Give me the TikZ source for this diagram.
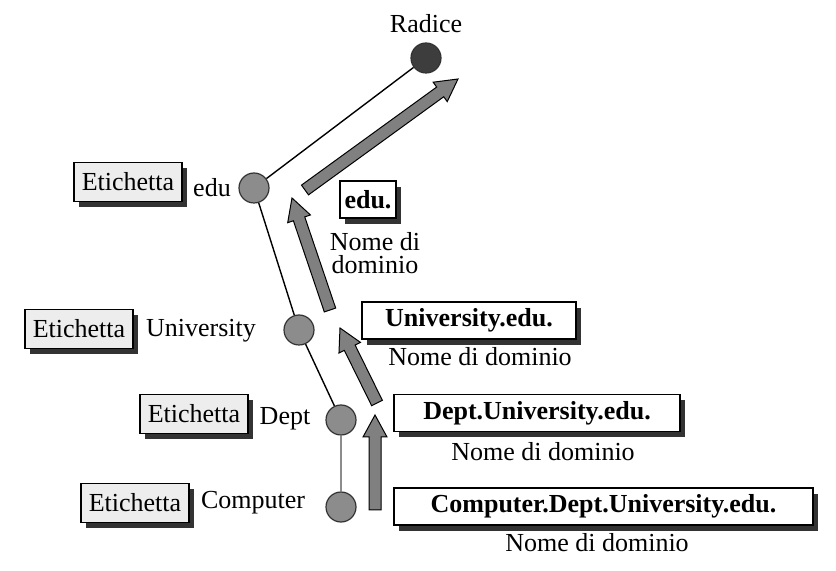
\documentclass[tikz,border=0pt]{standalone}
\usepackage{fontspec}
\setmainfont{Liberation Serif}
\usetikzlibrary{calc,shadows}

\tikzset{
    tag/.style={draw, line width=0.7pt, fill=black!7, minimum width=54pt, minimum height=19.5pt,
        inner sep=0pt, drop shadow={opacity=1, fill=black!80, shadow xshift=2.5pt, shadow yshift=-3pt}},
    dname/.style={draw, line width=0.7pt, fill=white, minimum height=18.5pt, inner sep=0pt,
        font=\fontsize{13}{15}\selectfont\bfseries,
        drop shadow={opacity=1, fill=black!80, shadow xshift=2.5pt, shadow yshift=-3pt}},
    vert/.style={circle, draw=black!80, line width=0.6pt, fill=black!45, minimum size=15pt, inner sep=0pt},
    fatarrow/.style={draw=black, fill=black!50, line width=0.5pt, line join=miter}
}

% freccia grigia larga da #1 a #2
\newcommand\greyarrow[2]{%
    \filldraw [fatarrow] ($(#1)!3pt!90:(#2)$) -- ($(#2)!11pt!(#1)!3pt!-90:(#1)$)
        -- ($(#2)!11pt!(#1)!6pt!-90:(#1)$) -- (#2)
        -- ($(#2)!11pt!(#1)!6pt!90:(#1)$) -- ($(#2)!11pt!(#1)!3pt!90:(#1)$)
        -- ($(#1)!3pt!-90:(#2)$) -- cycle;}

\begin{document}
\begin{tikzpicture}[x=0.5pt, y=-0.5pt, font=\fontsize{13}{15}\selectfont]
    \useasboundingbox (0,0) rectangle (836,571);

    % albero
    \node [vert, fill=black!76] (root) at (426,58)  {};
    \node [vert] (edu)  at (254,188) {};
    \node [vert] (univ) at (299,330) {};
    \node [vert] (dept) at (341,420) {};
    \node [vert] (comp) at (341,507) {};

    \draw [line width=0.7pt] (root) -- (edu);
    \draw [line width=0.7pt] (edu) -- (univ);
    \draw [line width=0.7pt] (univ) -- (dept);
    \draw [line width=1.2pt, black!45] (dept) -- (comp);

    \node (rootlbl) at (426,24)  {Radice};
    \node (edulbl)  at (212,188) {edu};
    \node (univlbl) at (201,331) {University};
    \node (deptlbl) at (285,419) {Dept};
    \node (complbl) at (253,503) {Computer};

    % etichette
    \node [tag] (tagedu)  at (128,182) {Etichetta};
    \node [tag] (taguniv) at (79,329)  {Etichetta};
    \node [tag] (tagdept) at (194,414) {Etichetta};
    \node [tag] (tagcomp) at (135,503) {Etichetta};

    % nomi di dominio
    \node [dname, minimum width=28pt]    (nameedu)  at (368,199.5) {edu.};
    \node [dname, minimum width=107pt]   (nameuniv) at (469,320.5) {University.edu.};
    \node [dname, minimum width=143pt]   (namedept) at (537,413)   {Dept.University.edu.};
    \node [dname, minimum width=209.5pt] (namecomp) at (603.5,506.5) {Computer.Dept.University.edu.};

    \node [align=center, font=\fontsize{13}{11.5}\selectfont] (nomeedu) at (375,253) {Nome di\\dominio};
    \node (nomeuniv) at (480,357) {Nome di dominio};
    \node (nomedept) at (543,452) {Nome di dominio};
    \node (nomecomp) at (597,543) {Nome di dominio};

    % frecce
    \coordinate (s1) at (375,510); \coordinate (t1) at (375,415);
    \coordinate (s2) at (377,403); \coordinate (t2) at (340,328);
    \coordinate (s3) at (330,310); \coordinate (t3) at (292,198);
    \coordinate (s4) at (305,190); \coordinate (t4) at (458,79);
    \greyarrow{s1}{t1}
    \greyarrow{s2}{t2}
    \greyarrow{s3}{t3}
    \greyarrow{s4}{t4}
\end{tikzpicture}
\end{document}
